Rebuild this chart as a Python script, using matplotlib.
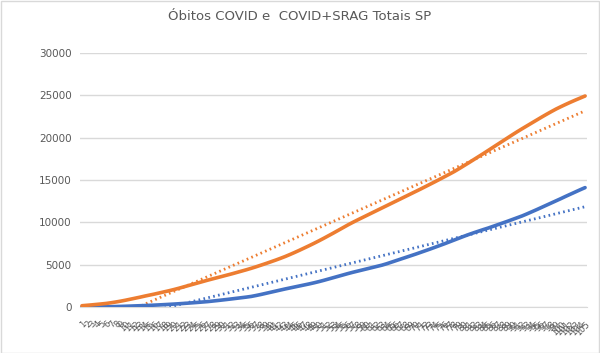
import numpy as np
import matplotlib
matplotlib.use('Agg')
import matplotlib.pyplot as plt
from matplotlib.patches import Rectangle

# Óbitos acumulados
covid = [0, 2, 5, 10, 18, 28, 40, 55, 70, 88,
         108, 130, 150, 172, 196, 222, 250, 280, 312, 345,
         382, 420, 460, 502, 546, 592, 640, 700, 762, 826,
         892, 960, 1030, 1100, 1170, 1250, 1360, 1480, 1610, 1740,
         1870, 2000, 2130, 2250, 2370, 2490, 2610, 2730, 2860, 3000,
         3150, 3310, 3470, 3630, 3790, 3950, 4100, 4240, 4380, 4520,
         4660, 4800, 4940, 5110, 5300, 5490, 5680, 5870, 6060, 6250,
         6450, 6650, 6850, 7060, 7270, 7480, 7700, 7920, 8140, 8360,
         8570, 8770, 8960, 9150, 9330, 9530, 9730, 9930, 10130, 10340,
         10550, 10760, 11000, 11250, 11500, 11760, 12020, 12280, 12540, 12800,
         13070, 13330, 13590, 13850, 14100]

covid_srag = [150, 200, 250, 305, 360, 420, 500, 590, 690, 800,
              920, 1040, 1160, 1290, 1410, 1530, 1660, 1790, 1920, 2060,
              2210, 2370, 2530, 2690, 2850, 3010, 3170, 3320, 3470, 3620,
              3770, 3920, 4080, 4240, 4400, 4570, 4750, 4940, 5130, 5330,
              5530, 5740, 5960, 6200, 6450, 6710, 6980, 7250, 7530, 7820,
              8120, 8430, 8740, 9060, 9380, 9700, 10000, 10290, 10570, 10850,
              11130, 11410, 11690, 11970, 12250, 12530, 12810, 13090, 13370, 13650,
              13930, 14220, 14510, 14800, 15100, 15400, 15700, 16010, 16350, 16700,
              17050, 17410, 17770, 18130, 18500, 18870, 19240, 19610, 19980, 20350,
              20710, 21060, 21400, 21740, 22080, 22420, 22750, 23070, 23380, 23660,
              23930, 24190, 24440, 24680, 24920]

dias = [str(d) for d in range(1, len(covid) + 1)]

title = 'Óbitos COVID e  COVID+SRAG Totais SP'
blue = '#4472C4'
orange = '#ED7D31'
grey_txt = '#595959'
grey_line = '#D9D9D9'

fig = plt.figure(figsize=(6, 3.53), dpi=100)
ax = fig.add_axes([80 / 600, 1 - 307 / 353, 507 / 600, 254 / 353])

x = np.arange(len(covid))
ax.plot(x, covid, color=blue, lw=2.6, solid_capstyle='round', zorder=3)
ax.plot(x, covid_srag, color=orange, lw=2.6, solid_capstyle='round', zorder=3)

# linhas de tendência lineares (como no Excel)
for serie, cor in ((covid, blue), (covid_srag, orange)):
    a, b = np.polyfit(x, serie, 1)
    ax.plot(x, a * x + b, color=cor, lw=2.0, linestyle=(0, (0.6, 1.2)),
            dash_capstyle='butt', zorder=2)

ax.set_xlim(-0.4, len(covid) - 0.6)
ax.set_ylim(0, 30000)
ax.set_yticks(range(0, 30001, 5000))
ax.grid(axis='y', color=grey_line, lw=1)
ax.set_axisbelow(True)
for s in ('top', 'right', 'left'):
    ax.spines[s].set_visible(False)
ax.spines['bottom'].set_color(grey_line)
ax.tick_params(axis='y', length=0, labelsize=7.5, labelcolor=grey_txt, pad=6)
ax.set_xticks(x)
ax.set_xticklabels(dias, rotation=45, ha='right', va='top',
                   rotation_mode='anchor', fontsize=6, color=grey_txt)
ax.tick_params(axis='x', length=0, pad=9)

fig.text(0.5, 1 - 16 / 353, title, ha='center', va='center',
         fontsize=9.5, color=grey_txt)
fig.patches.append(Rectangle((0.001, 0.001), 0.997, 0.997, transform=fig.transFigure,
                             fill=False, edgecolor=grey_line, lw=1))

fig.savefig('out.png', dpi=100)
